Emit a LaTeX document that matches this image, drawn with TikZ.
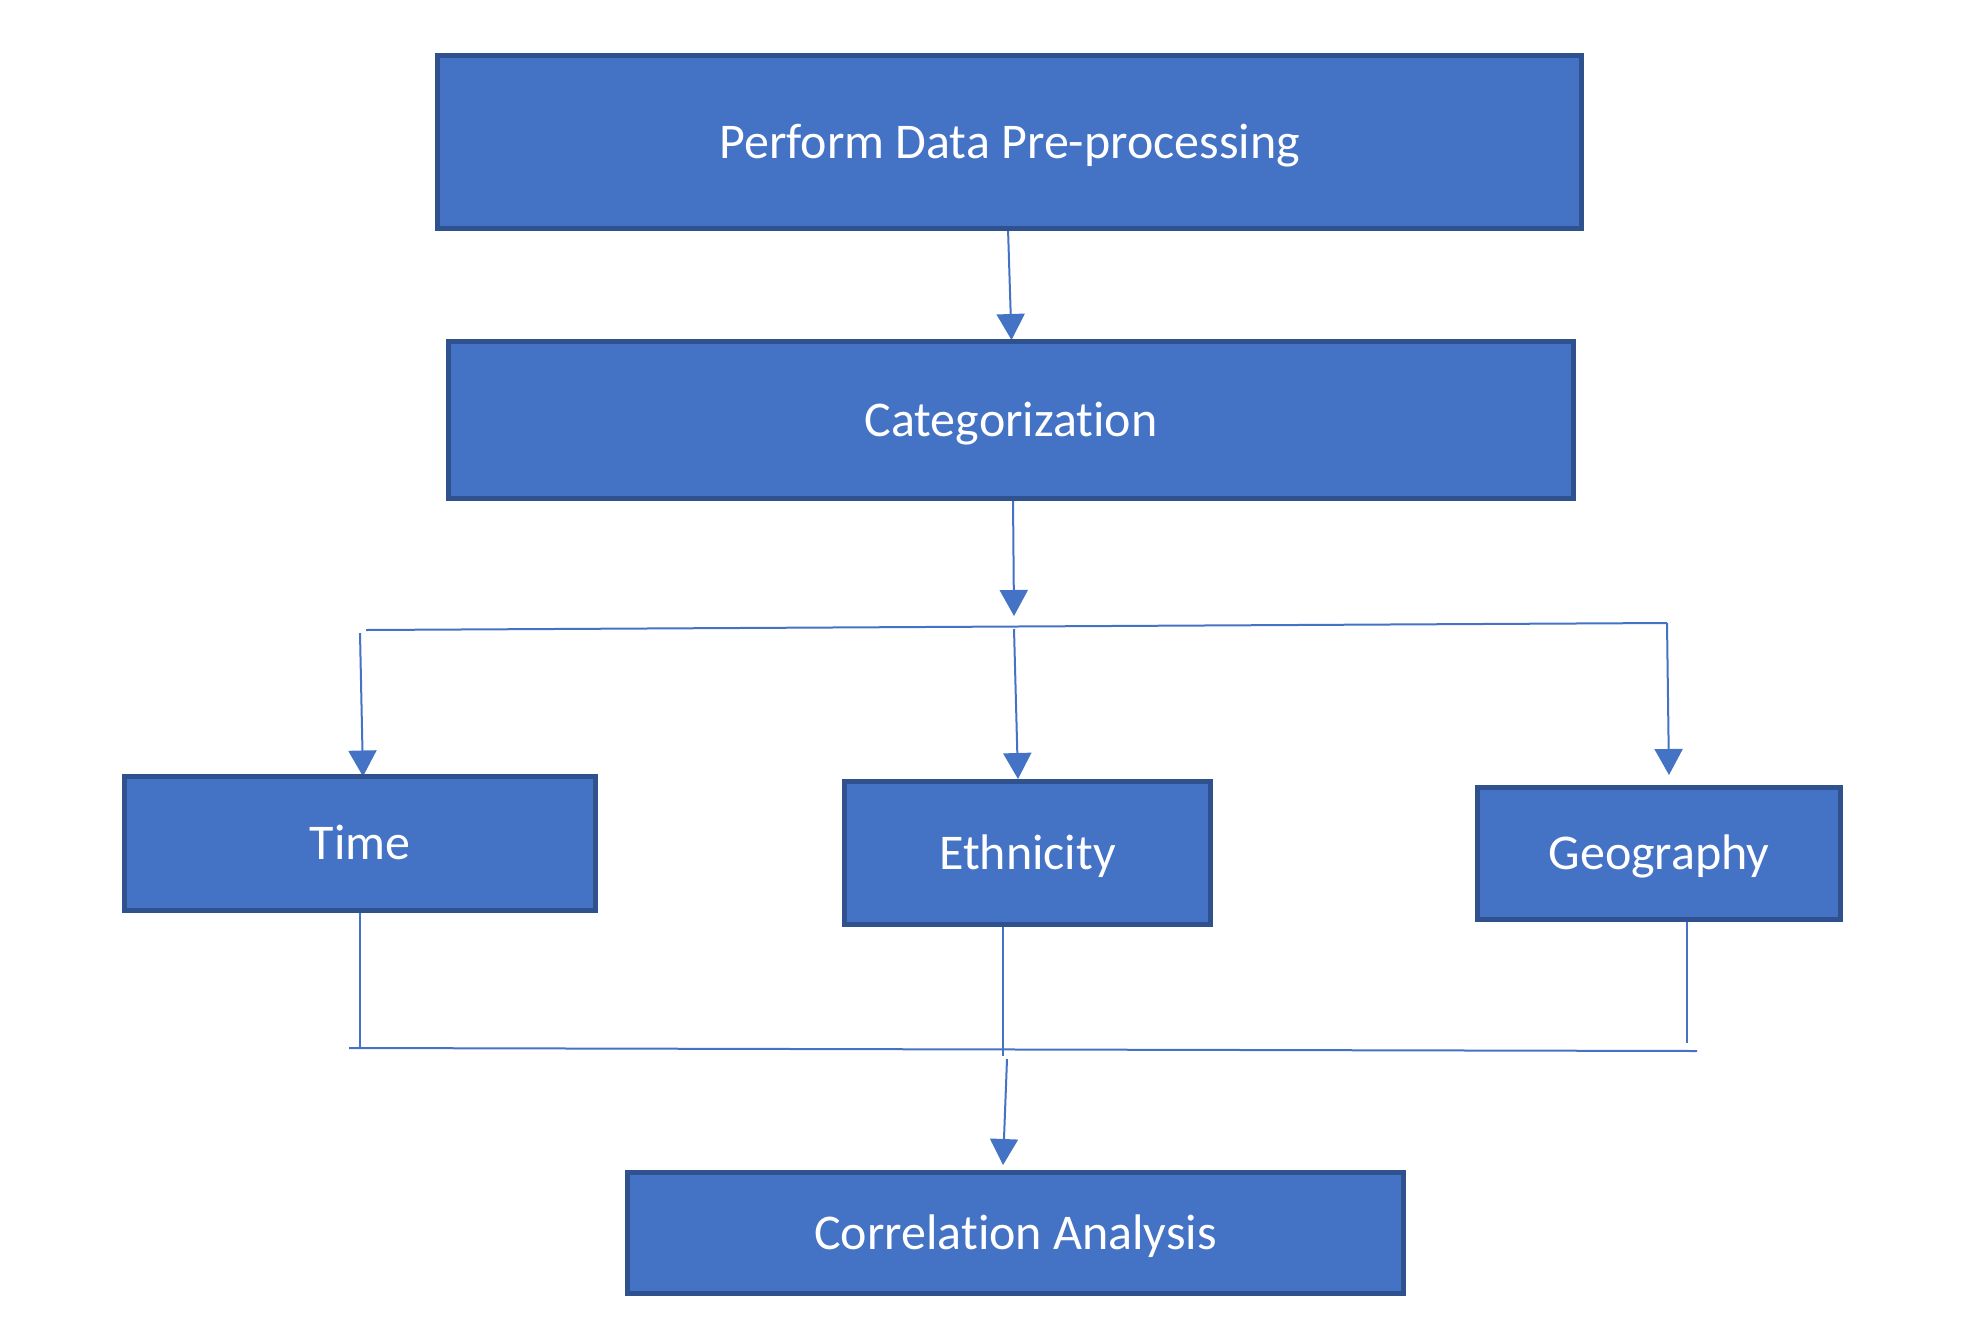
\documentclass[tikz,border=0pt]{standalone}
\usepackage{fontspec}
\setmainfont{Carlito}[Ligatures=NoCommon]
\usetikzlibrary{arrows.meta,backgrounds}
\definecolor{boxfill}{HTML}{4472C4}
\definecolor{boxline}{HTML}{2F528F}
\definecolor{connc}{HTML}{4472C4}
\begin{document}
\begin{tikzpicture}[x=1pt,y=-1pt,
  box/.style={draw=boxline, fill=boxfill, line width=5pt, text=white,
    font=\fontsize{50}{60}\selectfont, text height=32pt, text depth=0pt,
    inner sep=0pt, outer sep=0pt},
  conn/.style={draw=connc, line width=2pt},
  arr/.style={conn, -{Triangle[width=28pt,length=26pt]}}]
\useasboundingbox (0,0) rectangle (1980,1331);

\node[box, minimum width=1144pt, minimum height=173pt] (pre) at (1009.5,142) {Perform Data Pre-processing};
\node[box, minimum width=1125pt, minimum height=157pt] (cat) at (1011,420) {Categorization};
\node[box, minimum width=471pt, minimum height=134pt] (time) at (360,843.5) {Time};
\node[box, minimum width=366pt, minimum height=143pt] (eth) at (1027.5,853) {Ethnicity};
\node[box, minimum width=363pt, minimum height=132pt] (geo) at (1659,853.5) {Geography};
\node[box, minimum width=776pt, minimum height=121pt] (corr) at (1015.5,1233) {Correlation Analysis};

\coordinate (j1) at (1014,616);
\coordinate (sl) at (366,630);
\coordinate (sr) at (1667,623);
\coordinate (t0) at (360,633);
\coordinate (e0) at (1014,629);
\coordinate (tb) at (360,1048);
\coordinate (eb) at (1003,1056);
\coordinate (gb) at (1687,1043);
\coordinate (bl) at (349,1048);
\coordinate (br) at (1697,1051);
\coordinate (c0) at (1007,1059);

\begin{scope}[on background layer]
\draw[arr] ([xshift=-1.5pt]pre.south) -- ([xshift=0.5pt,yshift=1.5pt]cat.north);
\draw[arr] ([xshift=2pt]cat.south) -- (j1);
\draw[conn] (sl) -- (sr);
\draw[arr] (t0) -- ([xshift=3pt]time.north);
\draw[arr] (e0) -- ([xshift=-9.5pt,yshift=2.5pt]eth.north);
\draw[arr] (sr) -- ([xshift=10pt,yshift=12.5pt]geo.north);
\draw[conn] (time.south) -- (tb);
\draw[conn] ([xshift=-24.5pt]eth.south) -- (eb);
\draw[conn] ([xshift=28pt]geo.south) -- (gb);
\draw[conn] (bl) -- (br);
\draw[arr] (c0) -- ([xshift=-12.5pt,yshift=7.5pt]corr.north);
\end{scope}
\end{tikzpicture}
\end{document}
